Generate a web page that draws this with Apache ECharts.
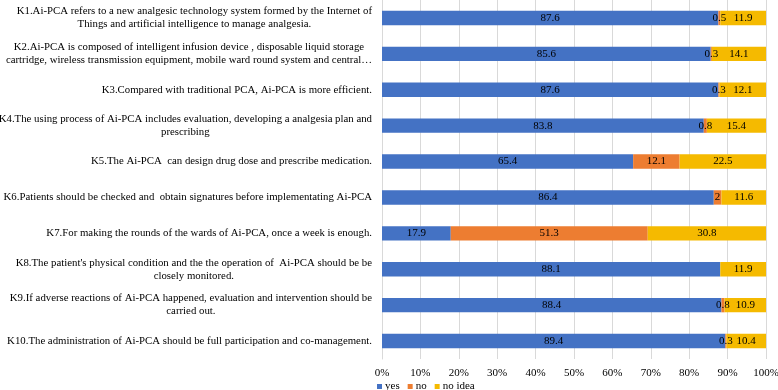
<!DOCTYPE html>
<html>
<head>
<meta charset="utf-8">
<script src="https://cdn.jsdelivr.net/npm/echarts@6/dist/echarts.min.js"></script>
<style>
  html, body { margin: 0; padding: 0; background: #fff; }
  #main { width: 778px; height: 390px; }
</style>
</head>
<body>
<div id="main"></div>
<script>
// 题目（每行手动换行，和原图一致）
var items = [
  "K1.Ai-PCA refers to a new analgesic technology system formed by the Internet of\nThings and artificial intelligence to manage analgesia.",
  "K2.Ai-PCA is composed of intelligent infusion device , disposable liquid storage\ncartridge, wireless transmission equipment, mobile ward round system and central\u2026",
  "K3.Compared with traditional PCA, Ai-PCA is more efficient.",
  "K4.The using process of Ai-PCA includes evaluation, developing a analgesia plan and\nprescribing",
  "K5.The Ai-PCA  can design drug dose and prescribe medication.",
  "K6.Patients should be checked and  obtain signatures before implementating Ai-PCA",
  "K7.For making the rounds of the wards of Ai-PCA, once a week is enough.",
  "K8.The patient's physical condition and the the operation of  Ai-PCA should be be\nclosely monitored.",
  "K9.If adverse reactions of Ai-PCA happened, evaluation and intervention should be\ncarried out.",
  "K10.The administration of Ai-PCA should be full participation and co-management."
];
var yesData = [87.6, 85.6, 87.6, 83.8, 65.4, 86.4, 17.9, 88.1, 88.4, 89.4];
var noData = [0.5, 0.3, 0.3, 0.8, 12.1, 2, 51.3, 0, 0.8, 0.3];
var noIdeaData = [11.9, 14.1, 12.1, 15.4, 22.5, 11.6, 30.8, 11.9, 10.9, 10.4];
var xTicks = [0, 10, 20, 30, 40, 50, 60, 70, 80, 90, 100];

var font = "Liberation Serif";
var chart = echarts.init(document.getElementById("main"));

function barLabel() {
  return {
    show: true,
    position: "inside",
    color: "#000",
    fontFamily: font,
    fontSize: 11,
    formatter: function (p) {
      return p.value === 0 ? "" : String(p.value);
    }
  };
}

chart.setOption({
  animation: false,
  color: ["#4472C4", "#ED7D31", "#F5BA00"],
  grid: { left: 382, right: 12, top: 0, bottom: 31, outerBoundsMode: "none" },
  legend: {
    left: 372,
    top: 376,
    itemWidth: 5,
    itemHeight: 5,
    itemGap: 8,
    icon: "rect",
    textStyle: { fontFamily: font, fontSize: 11, color: "#000", padding: [0, 0, 0, -2] },
    data: ["yes", "no", "no idea"]
  },
  xAxis: {
    type: "value",
    min: 0,
    max: 100,
    interval: 10,
    axisLine: { show: false },
    axisTick: { show: false },
    splitLine: { lineStyle: { color: "#d9d9d9", width: 1 } },
    axisLabel: {
      margin: 9,
      color: "#000",
      fontFamily: font,
      fontSize: 11,
      formatter: function (v) {
        return xTicks.indexOf(v) >= 0 ? v + "%" : "";
      }
    }
  },
  yAxis: {
    type: "category",
    inverse: true,
    data: items,
    axisLine: { lineStyle: { color: "#d9d9d9" } },
    axisTick: { show: false },
    axisLabel: {
      interval: 0,
      margin: 10,
      lineHeight: 13,
      formatter: function (v) {
        return v.split("\n").map(function (s) {
          return "{c|" + s + "}";
        }).join("\n");
      },
      rich: {
        c: {
          align: "center",
          color: "#000",
          fontFamily: font,
          fontSize: 10.8,
          lineHeight: 13
        }
      }
    }
  },
  series: [
    { name: "yes", type: "bar", stack: "all", barWidth: "40%", label: barLabel(), data: yesData },
    { name: "no", type: "bar", stack: "all", barWidth: "40%", label: barLabel(), data: noData },
    { name: "no idea", type: "bar", stack: "all", barWidth: "40%", label: barLabel(), data: noIdeaData }
  ]
});
</script>
</body>
</html>
